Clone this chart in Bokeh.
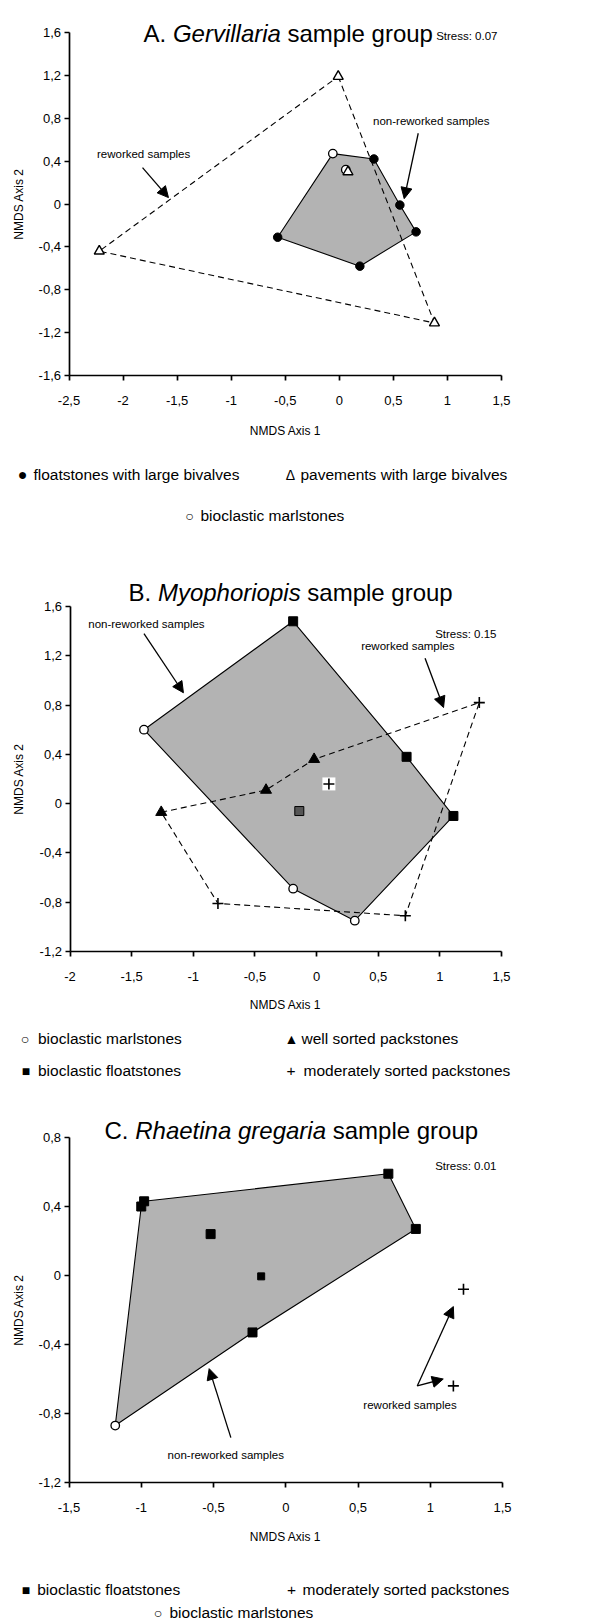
from bokeh.plotting import figure
from bokeh.layouts import column
from bokeh.models import Label, Arrow, NormalHead, FixedTicker, CustomJSTickFormatter, LinearAxis, Range1d
from bokeh.embed import file_html
from bokeh.resources import INLINE

FONT = "Liberation Sans"

# ---------------- data ----------------
# Panel A: Gervillaria sample group
a_xticks = [-2.5, -2, -1.5, -1, -0.5, 0, 0.5, 1, 1.5]
a_yticks = [-1.6, -1.2, -0.8, -0.4, 0, 0.4, 0.8, 1.2, 1.6]
a_float_x = [0.32, 0.56, 0.71, 0.19, -0.57]
a_float_y = [0.42, -0.01, -0.26, -0.58, -0.31]
a_pave_x = [-0.01, 0.88, -2.22, 0.08]
a_pave_y = [1.19, -1.11, -0.44, 0.30]
a_marl_x = [-0.06, 0.06]
a_marl_y = [0.47, 0.32]
a_hull_x = [-0.06, 0.32, 0.56, 0.71, 0.19, -0.57]
a_hull_y = [0.47, 0.42, -0.01, -0.26, -0.58, -0.31]
a_rew_x = [-0.01, 0.88, -2.22]
a_rew_y = [1.19, -1.11, -0.44]

# Panel B: Myophoriopis sample group
b_xticks = [-2, -1.5, -1, -0.5, 0, 0.5, 1, 1.5]
b_yticks = [-1.2, -0.8, -0.4, 0, 0.4, 0.8, 1.2, 1.6]
b_float_x = [-0.19, 0.73, 1.11]
b_float_y = [1.48, 0.38, -0.10]
b_float2_x = [-0.14]
b_float2_y = [-0.06]
b_marl_x = [-1.40, 0.31, -0.19]
b_marl_y = [0.60, -0.95, -0.69]
b_well_x = [-0.02, -0.41, -1.26]
b_well_y = [0.36, 0.11, -0.07]
b_mod_x = [1.32, 0.72, -0.80, 0.10]
b_mod_y = [0.82, -0.91, -0.81, 0.16]
b_hull_x = [-0.19, 0.73, 1.11, 0.31, -0.19, -1.40]
b_hull_y = [1.48, 0.38, -0.10, -0.95, -0.69, 0.60]
b_rew_x = [-1.26, -0.41, -0.02, 1.32, 0.72, -0.80]
b_rew_y = [-0.07, 0.11, 0.36, 0.82, -0.91, -0.81]

# Panel C: Rhaetina gregaria sample group
c_xticks = [-1.5, -1, -0.5, 0, 0.5, 1, 1.5]
c_yticks = [-1.2, -0.8, -0.4, 0, 0.4, 0.8]
c_float_x = [0.71, 0.90, -0.98, -1.00, -0.52, -0.23, -0.17]
c_float_y = [0.59, 0.27, 0.43, 0.40, 0.24, -0.33, -0.005]
c_marl_x = [-1.18]
c_marl_y = [-0.87]
c_mod_x = [1.23, 1.16]
c_mod_y = [-0.08, -0.64]
c_hull_x = [-0.98, 0.71, 0.90, -0.23, -1.18, -1.00]
c_hull_y = [0.43, 0.59, 0.27, -0.33, -0.87, 0.40]

GRAY = "#b3b3b3"
W = 589
HEIGHTS = {}
FMT = "return String(Math.round(tick*10)/10).replace('.', ',');"


def style_axis(ax):
    ax.axis_line_width = 1.7
    ax.axis_line_color = "black"
    ax.major_tick_line_width = 1.7
    ax.major_tick_line_color = "black"
    ax.major_tick_out = 5
    ax.major_tick_in = 0
    ax.minor_tick_line_color = None
    ax.major_label_text_font = FONT
    ax.major_label_text_font_size = "13px"
    ax.major_label_text_color = "black"


def make_panel(H, xlo, xhi, pxlo, pxhi, ylo, yhi, pylo, pyhi, xticks, yticks):
    # pixel anchors of the axis ends inside this panel's canvas
    sx = (pxhi - pxlo) / (xhi - xlo)
    sy = (pylo - pyhi) / (yhi - ylo)
    xr = Range1d(xlo - pxlo / sx, xhi + (W - pxhi) / sx)
    yr = Range1d(ylo - (H - pylo) / sy, yhi + pyhi / sy)
    p = figure(width=W, height=H, x_range=xr, y_range=yr,
               output_backend="svg", toolbar_location=None, title=None,
               x_axis_location=None, y_axis_location=None, min_border=0)
    p.outline_line_color = None
    p.background_fill_color = "white"
    p.border_fill_color = "white"
    p.grid.visible = False
    xa = LinearAxis(fixed_location=ylo, bounds=(xlo, xhi),
                    ticker=FixedTicker(ticks=xticks), formatter=CustomJSTickFormatter(code=FMT))
    ya = LinearAxis(fixed_location=xlo, bounds=(ylo, yhi),
                    ticker=FixedTicker(ticks=yticks), formatter=CustomJSTickFormatter(code=FMT))
    style_axis(xa)
    style_axis(ya)
    xa.major_label_standoff = 15
    ya.major_label_standoff = 3
    p.add_layout(xa, "below")
    p.add_layout(ya, "left")
    HEIGHTS[id(p)] = H
    return p


def slabel(p, fx, fy, text, size, style="normal", align="left", baseline="alphabetic", angle=0):
    # fx, fy: pixel position within this panel's canvas (frame == canvas)
    p.add_layout(Label(x=fx, y=HEIGHTS[id(p)] - fy, x_units="screen", y_units="screen",
                       text=text, text_font=FONT, text_font_size=size, text_font_style=style,
                       text_align=align, text_baseline=baseline, text_color="black",
                       angle=angle, angle_units="deg"))


def legend_item(p, cx, tx, by, symbol, sym_size, text):
    slabel(p, cx, by, symbol, sym_size, align="center")
    slabel(p, tx, by, text, "15.5px")


def axis_titles(p, cx, ty, cy):
    slabel(p, cx, ty, "NMDS Axis 1", "12px", align="center", baseline="middle")
    slabel(p, 18, cy, "NMDS Axis 2", "12px", align="center", baseline="middle", angle=90)


def dlabel(p, x, y, text):
    p.add_layout(Label(x=x, y=y, text=text, text_font=FONT, text_font_size="11.5px",
                       text_align="center", text_baseline="middle", text_color="black"))


def arrow(p, x0, y0, x1, y1):
    p.add_layout(Arrow(end=NormalHead(size=11, fill_color="black", line_color="black", line_width=1),
                       x_start=x0, y_start=y0, x_end=x1, y_end=y1,
                       line_color="black", line_width=1.3))


def filled_circles(p, x, y):
    p.scatter(x, y, marker="circle", size=8.5, fill_color="black", line_color="black")


def open_circles(p, x, y):
    p.scatter(x, y, marker="circle", size=8.5, fill_color="white", line_color="black", line_width=1.3)


def open_triangles(p, x, y):
    p.scatter(x, y, marker="triangle", size=10, fill_color="white", line_color="black", line_width=1.4)


def filled_triangles(p, x, y):
    p.scatter(x, y, marker="triangle", size=11, fill_color="black", line_color="black")


def squares(p, x, y, color="black", size=9):
    p.scatter(x, y, marker="square", size=size, fill_color=color, line_color="black")


def crosses(p, x, y):
    p.scatter(x, y, marker="cross", size=11, line_color="black", line_width=1.6)


# ---------------- Panel A ----------------
pa = make_panel(540, -2.5, 1.5, 68.5, 501, -1.6, 1.6, 375, 32, a_xticks, a_yticks)
pa.patch(a_hull_x, a_hull_y, fill_color=GRAY, line_color="black", line_width=1.1)
pa.patch(a_rew_x, a_rew_y, fill_color=None, line_color="black", line_width=1.1, line_dash="6 4")
filled_circles(pa, a_float_x, a_float_y)
open_circles(pa, a_marl_x, a_marl_y)
open_triangles(pa, a_pave_x, a_pave_y)
dlabel(pa, -1.81, 0.47, "reworked samples")
arrow(pa, -1.82, 0.34, -1.58, 0.06)
dlabel(pa, 0.85, 0.77, "non-reworked samples")
arrow(pa, 0.73, 0.66, 0.60, 0.05)
axis_titles(pa, 285, 430, 203.5)
slabel(pa, 143, 33, "A.", "24px")
slabel(pa, 172.4, 33, "Gervillaria", "24px", style="italic")
slabel(pa, 287.0, 33, "sample group", "24px")
slabel(pa, 497, 35, "Stress: 0.07", "11.5px", align="right")
legend_item(pa, 22, 33, 474, "\u25CF", "16px", "floatstones with large bivalves")
legend_item(pa, 290, 300, 474, "\u0394", "14px", "pavements with large bivalves")
legend_item(pa, 189, 200, 515, "\u25CB", "14px", "bioclastic marlstones")

# ---------------- Panel B ----------------
pb = make_panel(540, -2, 1.5, 69.5, 501, -1.2, 1.6, 411, 66, b_xticks, b_yticks)
pb.patch(b_hull_x, b_hull_y, fill_color=GRAY, line_color="black", line_width=1.1)
pb.patch(b_rew_x, b_rew_y, fill_color=None, line_color="black", line_width=1.1, line_dash="6 4")
squares(pb, b_float_x, b_float_y)
squares(pb, b_float2_x, b_float2_y, color="#555555")
open_circles(pb, b_marl_x, b_marl_y)
filled_triangles(pb, b_well_x, b_well_y)
pb.scatter(b_mod_x[3:], b_mod_y[3:], marker="square", size=13, fill_color="white", line_color=None)
crosses(pb, b_mod_x, b_mod_y)
dlabel(pb, -1.38, 1.46, "non-reworked samples")
arrow(pb, -1.40, 1.38, -1.08, 0.90)
dlabel(pb, 0.74, 1.28, "reworked samples")
arrow(pb, 0.88, 1.18, 1.03, 0.78)
axis_titles(pb, 285, 464, 238.5)
slabel(pb, 128, 52, "B.", "24px")
slabel(pb, 157.4, 52, "Myophoriopis", "24px", style="italic")
slabel(pb, 306.8, 52, "sample group", "24px")
slabel(pb, 496, 93, "Stress: 0.15", "11.5px", align="right")
legend_item(pb, 24.5, 37.5, 498, "\u25CB", "14px", "bioclastic marlstones")
legend_item(pb, 291, 301, 498, "\u25B2", "14px", "well sorted packstones")
legend_item(pb, 25.5, 37.5, 530, "\u25A0", "14px", "bioclastic floatstones")
legend_item(pb, 290.5, 303, 530, "+", "15.5px", "moderately sorted packstones")

# ---------------- Panel C ----------------
pc = make_panel(541, -1.5, 1.5, 68.5, 502, -1.2, 0.8, 402, 57, c_xticks, c_yticks)
pc.patch(c_hull_x, c_hull_y, fill_color=GRAY, line_color="black", line_width=1.1)
squares(pc, c_float_x[:6], c_float_y[:6])
squares(pc, c_float_x[6:], c_float_y[6:], size=7)
open_circles(pc, c_marl_x, c_marl_y)
crosses(pc, c_mod_x, c_mod_y)
dlabel(pc, 0.86, -0.75, "reworked samples")
arrow(pc, 0.91, -0.64, 1.16, -0.18)
arrow(pc, 0.91, -0.64, 1.09, -0.60)
dlabel(pc, -0.415, -1.04, "non-reworked samples")
arrow(pc, -0.38, -0.94, -0.53, -0.54)
axis_titles(pc, 285, 456, 229.5)
slabel(pc, 104, 50, "C.", "24px")
slabel(pc, 134.7, 50, "Rhaetina gregaria", "24px", style="italic")
slabel(pc, 332.2, 50, "sample group", "24px")
slabel(pc, 496, 85, "Stress: 0.01", "11.5px", align="right")
legend_item(pc, 25.5, 36.7, 509, "\u25A0", "14px", "bioclastic floatstones")
legend_item(pc, 291, 302, 509, "+", "15.5px", "moderately sorted packstones")
legend_item(pc, 157.5, 169, 532, "\u25CB", "14px", "bioclastic marlstones")

layout = column(pa, pb, pc, spacing=0)
open("out.html", "w").write(file_html(layout, INLINE))
